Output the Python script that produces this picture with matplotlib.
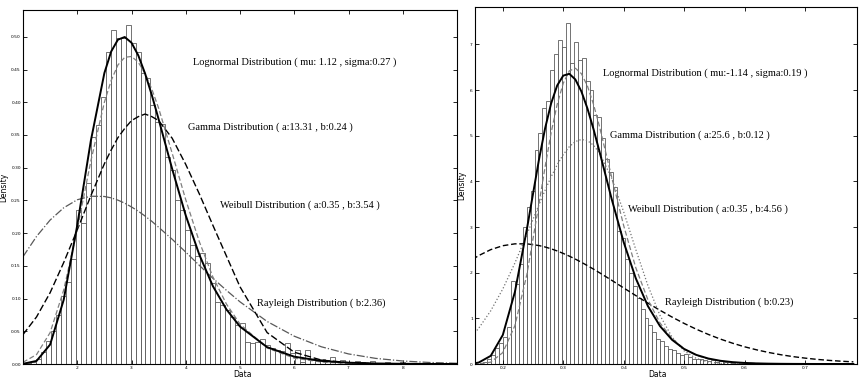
import numpy as np
import matplotlib
matplotlib.use("Agg")
import matplotlib.pyplot as plt

# ---- left panel data ----
left_bin_start = 1.05
left_bin_width = 0.092
left_hist = [0.002, 0.003, 0.008, 0.018, 0.035, 0.05, 0.075, 0.104, 0.125, 0.16,
             0.235, 0.215, 0.277, 0.347, 0.365, 0.408, 0.477, 0.51, 0.498, 0.498,
             0.518, 0.49, 0.477, 0.445, 0.437, 0.396, 0.37, 0.367, 0.317, 0.297,
             0.25, 0.235, 0.205, 0.182, 0.165, 0.17, 0.154, 0.124, 0.095, 0.09,
             0.083, 0.072, 0.06, 0.062, 0.034, 0.032, 0.034, 0.038, 0.029, 0.024,
             0.021, 0.02, 0.032, 0.017, 0.021, 0.003, 0.021, 0.006, 0.004, 0.008,
             0.005, 0.01, 0.004, 0.006, 0.003, 0.002, 0.004, 0.003, 0.002, 0.004,
             0.002, 0.001, 0.003, 0.001, 0.002, 0.003, 0.001, 0.001, 0.002, 0.001,
             0.0, 0.001, 0.0, 0.001, 0.0, 0.0]

left_x = [1.0, 1.25, 1.5, 1.75, 2.0, 2.25, 2.5, 2.625, 2.75, 2.875, 3.0, 3.125, 3.25,
          3.375, 3.5, 3.75, 4.0, 4.25, 4.5, 4.75, 5.0, 5.5, 6.0, 6.5, 7.0, 7.5, 8.0,
          8.5, 9.0]
left_lognormal = [0.0003, 0.0047, 0.0297, 0.098, 0.212, 0.341, 0.4446, 0.4775, 0.4957,
                  0.4997, 0.491, 0.4716, 0.444, 0.4108, 0.374, 0.298, 0.227, 0.167,
                  0.119, 0.0834, 0.0572, 0.0257, 0.0112, 0.0047, 0.002, 0.0008, 0.0003,
                  0.0001, 0.0]
left_gamma = [0.0026, 0.0144, 0.048, 0.113, 0.206, 0.31, 0.40, 0.4332, 0.457, 0.4687,
              0.470, 0.4612, 0.444, 0.420, 0.391, 0.322, 0.251, 0.187, 0.133, 0.0916,
              0.061, 0.0245, 0.0089, 0.003, 0.0009, 0.0003, 0.0001, 0.0, 0.0]
left_weibull = [0.045, 0.072, 0.109, 0.155, 0.205, 0.257, 0.306, 0.327, 0.346, 0.36,
                0.372, 0.378, 0.382, 0.378, 0.372, 0.345, 0.305, 0.26, 0.212, 0.165,
                0.118, 0.048, 0.018, 0.006, 0.002, 0.0005, 0.0, 0.0, 0.0]
left_rayleigh = [0.164, 0.195, 0.220, 0.2387, 0.251, 0.2564, 0.256, 0.2539, 0.2504,
                 0.2458, 0.240, 0.2335, 0.2261, 0.218, 0.209, 0.1906, 0.171, 0.1508,
                 0.131, 0.1126, 0.095, 0.065, 0.0425, 0.0263, 0.0154, 0.0086, 0.0046,
                 0.0023, 0.0011]

# ---- right panel data ----
right_bin_start = 0.155
right_bin_width = 0.0065
right_hist = [0.01, 0.03, 0.05, 0.1, 0.2, 0.35, 0.45, 0.6, 0.8, 1.82,
              1.75, 2.2, 3.0, 3.43, 3.8, 4.68, 5.05, 5.6, 5.75, 6.44,
              6.8, 7.1, 6.95, 7.47, 6.6, 7.05, 6.65, 6.7, 6.2, 6.0,
              5.45, 5.4, 4.94, 4.5, 4.2, 3.87, 2.92, 2.75, 2.3, 2.0,
              1.7, 1.45, 1.2, 1.0, 0.85, 0.7, 0.55, 0.5, 0.4, 0.33,
              0.3, 0.25, 0.2, 0.22, 0.15, 0.12, 0.1, 0.12, 0.08, 0.07,
              0.09, 0.05, 0.06, 0.04, 0.05, 0.03, 0.04, 0.03, 0.02, 0.03,
              0.02, 0.02, 0.01, 0.02, 0.01, 0.02, 0.01, 0.01, 0.02, 0.01,
              0.0, 0.01, 0.01, 0.0, 0.02, 0.01, 0.0, 0.01, 0.01, 0.0,
              0.01, 0.0, 0.01, 0.0, 0.01, 0.0, 0.01]

right_x = [0.15, 0.16, 0.18, 0.20, 0.22, 0.24, 0.26, 0.27, 0.28, 0.29, 0.30, 0.31,
           0.32, 0.33, 0.34, 0.35, 0.36, 0.38, 0.40, 0.42, 0.44, 0.46, 0.48, 0.50,
           0.52, 0.54, 0.56, 0.58, 0.60, 0.62, 0.64, 0.66, 0.68, 0.70, 0.72, 0.74,
           0.76, 0.78]
right_lognormal = [0.0103, 0.031, 0.178, 0.635, 1.577, 2.967, 4.489, 5.164, 5.711,
                   6.102, 6.317, 6.357, 6.233, 5.971, 5.598, 5.148, 4.652, 3.62, 2.668,
                   1.877, 1.27, 0.831, 0.53, 0.329, 0.2, 0.12, 0.0705, 0.041, 0.0236,
                   0.0134, 0.0076, 0.0043, 0.0024, 0.0013, 0.0007, 0.0004, 0.0002,
                   0.0001]
right_gamma = [0.002, 0.003, 0.04, 0.25, 0.84, 1.97, 3.52, 4.32, 5.07, 5.69, 6.15,
               6.42, 6.48, 6.36, 6.09, 5.69, 5.2, 4.1, 3.03, 2.11, 1.41, 0.9, 0.56,
               0.33, 0.19, 0.11, 0.063, 0.035, 0.02, 0.01, 0.005, 0.003, 0.001, 0.0,
               0.0, 0.0, 0.0, 0.0]
right_weibull = [0.625, 0.78, 1.165, 1.644, 2.212, 2.843, 3.494, 3.808, 4.101, 4.364,
                 4.587, 4.76, 4.873, 4.918, 4.893, 4.793, 4.621, 4.077, 3.332, 2.508,
                 1.721, 1.066, 0.589, 0.287, 0.122, 0.044, 0.013, 0.003, 0.0, 0.0,
                 0.0, 0.0, 0.0, 0.0, 0.0, 0.0, 0.0, 0.0]
right_rayleigh = [2.292, 2.374, 2.505, 2.591, 2.632, 2.632, 2.594, 2.563, 2.523, 2.476,
                  2.422, 2.363, 2.298, 2.228, 2.155, 2.079, 1.999, 1.835, 1.666, 1.499,
                  1.334, 1.177, 1.028, 0.889, 0.763, 0.648, 0.546, 0.456, 0.377, 0.31,
                  0.252, 0.203, 0.162, 0.129, 0.101, 0.079, 0.061, 0.047]

left_labels = ["Lognormal Distribution ( mu: 1.12 , sigma:0.27 )",
               "Gamma Distribution ( a:13.31 , b:0.24 )",
               "Weibull Distribution ( a:0.35 , b:3.54 )",
               "Rayleigh Distribution ( b:2.36)"]
right_labels = ["Lognormal Distribution ( mu:-1.14 , sigma:0.19 )",
                "Gamma Distribution ( a:25.6 , b:0.12 )",
                "Weibull Distribution ( a:0.35 , b:4.56 )",
                "Rayleigh Distribution ( b:0.23)"]

fig = plt.figure(figsize=(8.6, 3.81), dpi=100)
ax1 = fig.add_axes([23 / 860, 17 / 381, 434 / 860, 354 / 381])
ax2 = fig.add_axes([475 / 860, 17 / 381, 382 / 860, 357 / 381])


def draw_hist(ax, start, width, heights):
    edges = start + width * np.arange(len(heights))
    ax.bar(edges, heights, width=width, align='edge', facecolor='white',
           edgecolor='0.3', linewidth=0.55)


def style_axes(ax, xlab_pos, ylab_pos):
    ax.tick_params(direction='in', top=True, right=True, length=3, width=0.6,
                   labelsize=3.2, pad=1.5)
    for s in ax.spines.values():
        s.set_linewidth(0.8)
    ax.set_xlabel("Data", fontsize=5.5)
    ax.set_ylabel("Density", fontsize=5.5)
    ax.xaxis.set_label_coords(*xlab_pos)
    ax.yaxis.set_label_coords(*ylab_pos)


# left panel
draw_hist(ax1, left_bin_start, left_bin_width, left_hist)
ax1.plot(left_x, left_rayleigh, linestyle='-.', color='0.35', lw=0.9)
ax1.plot(left_x, left_weibull, linestyle=(0, (5, 2)), color='black', lw=1.0)
ax1.plot(left_x, left_gamma, linestyle=(0, (4, 2)), color='0.5', lw=0.9)
ax1.plot(left_x, left_lognormal, linestyle='-', color='black', lw=1.4)
ax1.set_xlim(1, 9)
ax1.set_ylim(0, 0.541)
ax1.set_xticks([2, 3, 4, 5, 6, 7, 8])
ax1.set_yticks([0, 0.05, 0.1, 0.15, 0.2, 0.25, 0.3, 0.35, 0.4, 0.45, 0.5])
style_axes(ax1, (0.505, -0.018), (-0.034, 0.5))

left_pos = [(0.392, 0.853), (0.38, 0.67), (0.454, 0.449), (0.539, 0.172)]
for (tx, ty), lab in zip(left_pos, left_labels):
    ax1.text(tx, ty, lab, transform=ax1.transAxes, ha='left', va='center',
             fontsize=7.5, family='Liberation Serif')

# right panel
draw_hist(ax2, right_bin_start, right_bin_width, right_hist)
ax2.plot(right_x, right_rayleigh, linestyle=(0, (4, 2)), color='black', lw=1.0)
ax2.plot(right_x, right_weibull, linestyle=':', color='0.45', lw=0.9)
ax2.plot(right_x, right_gamma, linestyle=(0, (4, 2)), color='0.5', lw=0.9)
ax2.plot(right_x, right_lognormal, linestyle='-', color='black', lw=1.4)
ax2.set_xlim(0.154, 0.786)
ax2.set_ylim(0, 7.82)
ax2.set_xticks([0.2, 0.3, 0.4, 0.5, 0.6, 0.7])
ax2.set_yticks([0, 1, 2, 3, 4, 5, 6, 7])
style_axes(ax2, (0.479, -0.018), (-0.024, 0.5))

right_pos = [(0.335, 0.815), (0.353, 0.641), (0.40, 0.434), (0.497, 0.174)]
for (tx, ty), lab in zip(right_pos, right_labels):
    ax2.text(tx, ty, lab, transform=ax2.transAxes, ha='left', va='center',
             fontsize=7.5, family='Liberation Serif')

fig.savefig("out.png", dpi=100)
